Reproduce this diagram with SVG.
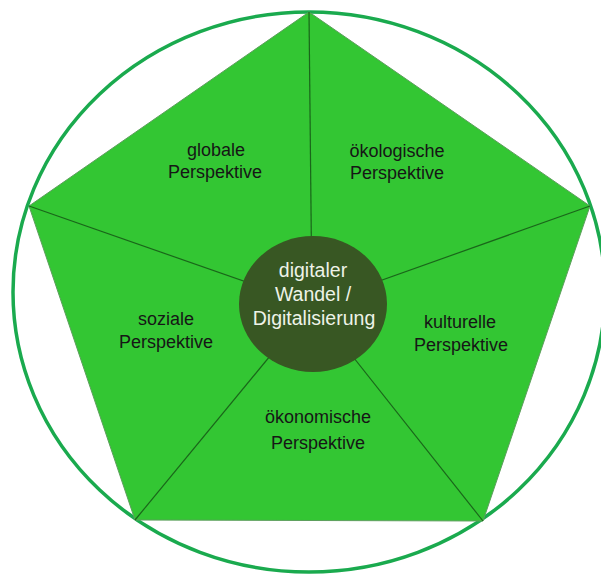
<svg xmlns="http://www.w3.org/2000/svg" width="601" height="574" viewBox="0 0 601 574">
  <style>
    .outer { fill: none; stroke: #1aaa4e; stroke-width: 3.5; }
    .penta { fill: #33c633; stroke: #5c9e5c; stroke-width: 1; }
    .spoke { stroke: #1a661a; stroke-width: 1.2; }
    .hub { fill: #385723; }
    .lbl { font-family: "Liberation Sans", Arial, sans-serif; font-size: 18px; fill: #161616; text-anchor: middle; }
    .hubtxt { font-family: "Liberation Sans", Arial, sans-serif; font-size: 19.5px; fill: #eef3e8; text-anchor: middle; }
  </style>
  <rect width="601" height="574" fill="#ffffff"/>

  <!-- surrounding ring -->
  <g id="ring">
    <ellipse class="outer" cx="309" cy="292" rx="296" ry="280"/>
  </g>

  <!-- five segments of the pentagon -->
  <g id="pentagon">
    <polygon class="penta" points="309,12 590,206 483,521 135,520 29,206"/>
  </g>

  <!-- divider lines from corners to the hub -->
  <g id="connectors">
    <line class="spoke" x1="309" y1="12" x2="312" y2="305"/>
    <line class="spoke" x1="590" y1="206" x2="312" y2="305"/>
    <line class="spoke" x1="483" y1="521" x2="312" y2="305"/>
    <line class="spoke" x1="135" y1="520" x2="312" y2="305"/>
    <line class="spoke" x1="29" y1="206" x2="312" y2="305"/>
  </g>

  <g id="globale">
    <text class="lbl" x="216" y="156">globale</text>
    <text class="lbl" x="215" y="178">Perspektive</text>
  </g>

  <g id="oekologische">
    <text class="lbl" x="397" y="157">ökologische</text>
    <text class="lbl" x="397" y="179">Perspektive</text>
  </g>

  <g id="soziale">
    <text class="lbl" x="166" y="325">soziale</text>
    <text class="lbl" x="166" y="348">Perspektive</text>
  </g>

  <g id="kulturelle">
    <text class="lbl" x="460" y="328">kulturelle</text>
    <text class="lbl" x="461" y="351">Perspektive</text>
  </g>

  <g id="oekonomische">
    <text class="lbl" x="318" y="423">ökonomische</text>
    <text class="lbl" x="318" y="449">Perspektive</text>
  </g>

  <g id="hub">
    <ellipse class="hub" cx="313" cy="304" rx="74" ry="68"/>
    <text class="hubtxt" x="313" y="277">digitaler</text>
    <text class="hubtxt" x="313" y="301">Wandel /</text>
    <text class="hubtxt" x="314" y="325">Digitalisierung</text>
  </g>
</svg>
